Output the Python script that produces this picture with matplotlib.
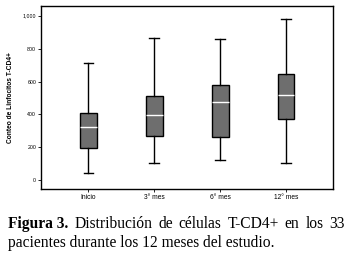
import matplotlib
matplotlib.use("Agg")
import matplotlib.pyplot as plt

labels = ["Inicio", "3° mes", "6° mes", "12° mes"]
whislo = [42, 107, 121, 103]
q1 = [194, 267, 263, 370]
med = [322, 395, 474, 516]
q3 = [411, 510, 577, 644]
whishi = [710, 866, 860, 978]
yticks = [0, 200, 400, 600, 800, 1000]

stats = []
for i, lab in enumerate(labels):
    stats.append({"label": lab, "whislo": whislo[i], "q1": q1[i], "med": med[i],
                  "q3": q3[i], "whishi": whishi[i], "fliers": []})

fig = plt.figure(figsize=(3.49, 2.63), dpi=100)
ax = fig.add_axes([41 / 349, 1 - 189 / 263, 292 / 349, 183 / 263])

ax.bxp(stats, positions=[1, 2, 3, 4], widths=0.25, patch_artist=True, showfliers=False,
       boxprops=dict(facecolor="#6e6e6e", edgecolor="black", linewidth=1.0),
       medianprops=dict(color="white", linewidth=1.0),
       whiskerprops=dict(color="black", linewidth=1.0),
       capprops=dict(color="black", linewidth=1.0),
       capwidths=0.15)

ax.set_xlim(0.28, 4.71)
ax.set_ylim(-53, 1059)
ax.set_yticks(yticks)
ax.set_yticklabels([f"{v:,}" for v in yticks], fontsize=3.8, family="Liberation Sans")
ax.set_xticklabels(labels, fontsize=4.8, family="Liberation Sans")
ax.tick_params(axis="both", length=2, width=0.6, pad=1.5)
ax.set_ylabel("Conteo de Linfocitos T-CD4+", fontsize=4.8, family="Liberation Sans",
              fontweight="bold", labelpad=6)
for s in ax.spines.values():
    s.set_linewidth(1.0)

# caption: bold "Figura 3." then a justified first line
cap_size = 11.2
y1 = 1 - 224 / 263
words = [("Figura 3.", "bold"), ("Distribución", "normal"), ("de", "normal"),
         ("células", "normal"), ("T-CD4+", "normal"), ("en", "normal"), ("los", "normal"),
         ("33", "normal")]
texts = [fig.text(0, y1, w, fontsize=cap_size, family="Liberation Serif", fontweight=fw,
                  va="center", ha="left") for w, fw in words]
fig.canvas.draw()
widths = [t.get_window_extent().width for t in texts]
left, right = 8, 345
gap = (right - left - sum(widths)) / (len(words) - 1)
x = left
for t, w in zip(texts, widths):
    t.set_x(x / 349)
    x += w + gap
fig.text(8 / 349, 1 - 243 / 263, "pacientes durante los 12 meses del estudio.",
         fontsize=cap_size, family="Liberation Serif", va="center", ha="left")

fig.savefig("out.png", dpi=100)
